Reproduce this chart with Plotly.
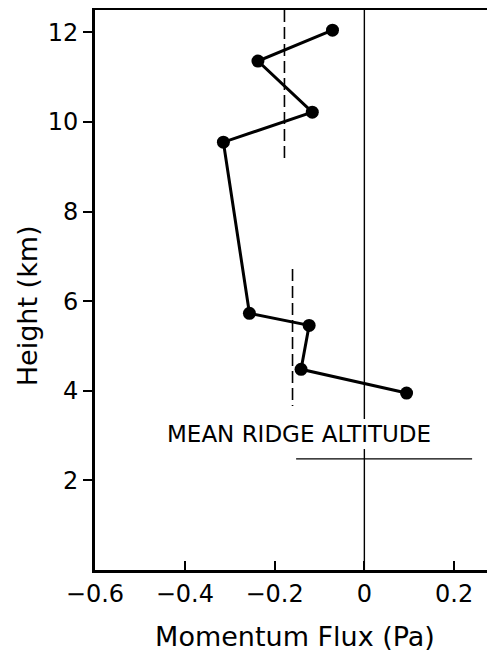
import plotly.graph_objects as go

# Momentum flux profile
flux = [-0.071, -0.237, -0.116, -0.314, -0.256, -0.123, -0.141, 0.094]
height = [12.05, 11.36, 10.22, 9.55, 5.73, 5.46, 4.48, 3.95]

# Dashed mean lines (x, y extents)
mean_upper_x = [-0.178, -0.178]
mean_upper_y = [12.5, 9.10]
mean_lower_x = [-0.160, -0.160]
mean_lower_y = [6.72, 3.66]

# Zero line segments (interrupted by label)
zero_top_x = [0, 0]
zero_top_y = [12.5, 3.37]
zero_bot_x = [0, 0]
zero_bot_y = [2.70, 0]

# Mean ridge altitude line
ridge_x = [-0.152, 0.24]
ridge_y = [2.48, 2.48]
ridge_label = "MEAN RIDGE ALTITUDE"
ridge_label_pos = (-0.145, 3.04)

x_ticks = [-0.6, -0.4, -0.2, 0, 0.2]
x_tick_text = ["−0.6", "−0.4", "−0.2", "0", "0.2"]
y_ticks = [2, 4, 6, 8, 10, 12]

FONT = "DejaVu Sans, Liberation Sans, Arial, sans-serif"

fig = go.Figure()
thin = dict(color="black", width=1.4)
dashed = dict(color="black", width=1.6, dash="12px,5px")
fig.add_trace(go.Scatter(x=zero_top_x, y=zero_top_y, mode="lines", line=thin, showlegend=False))
fig.add_trace(go.Scatter(x=zero_bot_x, y=zero_bot_y, mode="lines", line=thin, showlegend=False))
fig.add_trace(go.Scatter(x=ridge_x, y=ridge_y, mode="lines", line=thin, showlegend=False))
fig.add_trace(go.Scatter(x=mean_upper_x, y=mean_upper_y, mode="lines", line=dashed, showlegend=False))
fig.add_trace(go.Scatter(x=mean_lower_x, y=mean_lower_y, mode="lines", line=dashed, showlegend=False))
fig.add_trace(go.Scatter(x=flux, y=height, mode="lines+markers",
                         line=dict(color="black", width=3),
                         marker=dict(color="black", size=13), showlegend=False))

fig.add_annotation(x=ridge_label_pos[0], y=ridge_label_pos[1], text=ridge_label,
                   showarrow=False, font=dict(size=23, color="black", family=FONT))

# y-axis title placed as annotation (lower than plot centre, as in reference)
fig.add_annotation(xref="paper", yref="paper", x=0, y=0.471, xshift=-68,
                   xanchor="center", yanchor="middle", textangle=-90,
                   text="Height (km)", showarrow=False,
                   font=dict(size=27, color="black", family=FONT))

fig.update_layout(
    width=487, height=644,
    margin=dict(l=87, r=0, t=2, b=82),
    paper_bgcolor="white", plot_bgcolor="white",
    font=dict(family=FONT, color="black", size=24),
)
fig.update_xaxes(range=[-0.6, 0.291], tickvals=x_ticks, ticktext=x_tick_text,
                 ticks="inside", ticklen=9, tickwidth=2, tickcolor="black",
                 showline=True, linewidth=3, linecolor="black", mirror=True,
                 showgrid=False, zeroline=False,
                 title=dict(text="Momentum Flux (Pa)", font=dict(size=27), standoff=24),
                 tickfont=dict(size=24))
fig.update_yaxes(range=[0, 12.5], tickvals=y_ticks,
                 ticks="outside", ticklen=9, tickwidth=2, tickcolor="black",
                 showline=True, linewidth=3, linecolor="black",
                 showgrid=False, zeroline=False,
                 tickfont=dict(size=24))

fig.write_html("out.html")
